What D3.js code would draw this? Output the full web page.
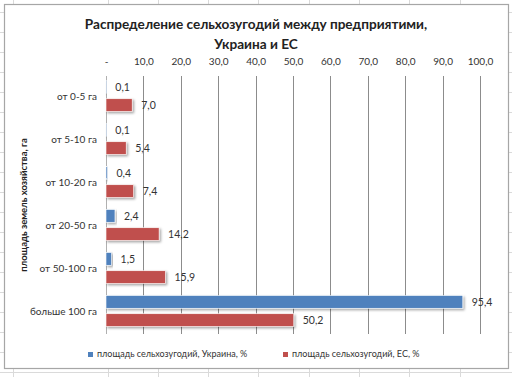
<!DOCTYPE html>
<meta charset="utf-8">
<style>
body{ margin:0; background:#fff; }
text{ font-family: Lato, "Open Sans", sans-serif; fill:#333; }
.title{ font-size:13.6px; font-weight:bold; text-anchor:middle; fill:#222; }
.tick text{ font-size:10px; }
.cat{ font-size:10px; text-anchor:end; }
.val{ font-size:10.5px; }
.ytitle{ font-size:9.5px; font-weight:bold; text-anchor:middle; fill:#222; }
.leg{ font-size:9px; }
</style>
<body>
<script src="https://cdnjs.cloudflare.com/ajax/libs/d3/7.8.5/d3.min.js"></script>
<script>

var categories = ['от 0-5 га','от 5-10 га','от 10-20 га','от 20-50 га','от 50-100 га','больше 100 га'];
var seriesNames = ['площадь сельхозугодий, Украина, %','площадь сельхозугодий, ЕС, %'];
var ukraine = [0.1, 0.1, 0.4, 2.4, 1.5, 95.4];
var eu = [7.0, 5.4, 7.4, 14.2, 15.9, 50.2];
var tickValues = [0,10,20,30,40,50,60,70,80,90,100];
var colors = ['#4F81BD','#C0504D'];

var W = 512, H = 377;
var svg = d3.select("body").append("svg").attr("width", W).attr("height", H);

// spreadsheet cells behind the chart
var sheet = svg.append("g").attr("stroke","#dadada").attr("stroke-width",1);
[13,108,158,208,258,309,359,409,460].forEach(function(x){
  sheet.append("line").attr("x1",x+0.5).attr("x2",x+0.5).attr("y1",0).attr("y2",H);
});
for(var yy=372; yy>0; yy-=20){
  sheet.append("line").attr("x1",0).attr("x2",W).attr("y1",yy+0.5).attr("y2",yy+0.5);
}

// chart area
svg.append("rect").attr("x",4.5).attr("y",4.5).attr("width",504).attr("height",364)
  .attr("fill","#fff").attr("stroke","#a6a6a6").attr("stroke-width",1.2);

var defs = svg.append("defs");
defs.append("filter").attr("id","shadow").attr("x","-10%").attr("y","-30%").attr("width","130%").attr("height","190%")
  .append("feDropShadow").attr("dx",1.5).attr("dy",1.5).attr("stdDeviation",1)
  .attr("flood-color","#000").attr("flood-opacity",0.35);

svg.append("text").attr("class","title").attr("x",256).attr("y",29)
  .text("Распределение сельхозугодий между предприятими,");
svg.append("text").attr("class","title").attr("x",256).attr("y",49)
  .text("Украина и ЕС");

var x = d3.scaleLinear().domain([0,100]).range([106,480]);
var y = d3.scaleBand().domain(categories).range([76,334]);
var sub = d3.scaleBand().domain([0,1]).range([4.5,35.5]).paddingInner(0.3);

var fmt = function(v){ return d3.format(".1f")(v).replace(".", ","); };

// gridlines
svg.append("g").selectAll("line").data(tickValues).join("line")
  .attr("x1",d=>Math.round(x(d))+0.5).attr("x2",d=>Math.round(x(d))+0.5)
  .attr("y1",76).attr("y2",334)
  .attr("stroke",d=>d===0?"#b0b0b0":"#8c8c8c").attr("stroke-width",1);

// top axis labels
var ax = svg.append("g").attr("transform","translate(0,76)")
  .call(d3.axisTop(x).tickValues(tickValues).tickSize(0).tickPadding(11)
    .tickFormat(d=>d===0?"-":fmt(d)));
ax.select(".domain").remove();
ax.selectAll("text").attr("fill","#444").style("font-family","Lato, sans-serif");

var rows = categories.map(function(c,i){ return {cat:c, vals:[ukraine[i], eu[i]]}; });

var grp = svg.append("g").selectAll("g").data(rows).join("g")
  .attr("transform",d=>"translate(0,"+y(d.cat)+")");

grp.selectAll("rect").data(d=>d.vals.map((v,k)=>({v:v,k:k}))).join("rect")
  .attr("x",x(0)).attr("y",d=>sub(d.k))
  .attr("width",d=>Math.max(0.6, x(d.v)-x(0))).attr("height",sub.bandwidth())
  .attr("fill",d=>colors[d.k]).attr("stroke","#fff").attr("stroke-width",0.6)
  .attr("filter","url(#shadow)");

grp.selectAll("text.val").data(d=>d.vals.map((v,k)=>({v:v,k:k}))).join("text")
  .attr("class","val")
  .attr("x",d=>x(d.v)+9).attr("y",d=>sub(d.k)+sub.bandwidth()/2+1)
  .attr("dominant-baseline","middle")
  .text(d=>fmt(d.v));

grp.append("text").attr("class","cat").attr("x",97).attr("y",y.bandwidth()/2)
  .attr("dominant-baseline","middle").text(d=>d.cat);

svg.append("text").attr("class","ytitle")
  .attr("transform","translate(27,205) rotate(-90)")
  .text("площадь земель хозяйства, га");

// legend
var legX = [88, 283];
seriesNames.forEach(function(n,i){
  svg.append("rect").attr("x",legX[i]).attr("y",352).attr("width",5).attr("height",5).attr("fill",colors[i]);
  svg.append("text").attr("class","leg").attr("x",legX[i]+9).attr("y",355)
    .attr("dominant-baseline","middle").text(n);
});

</script>
</body>
